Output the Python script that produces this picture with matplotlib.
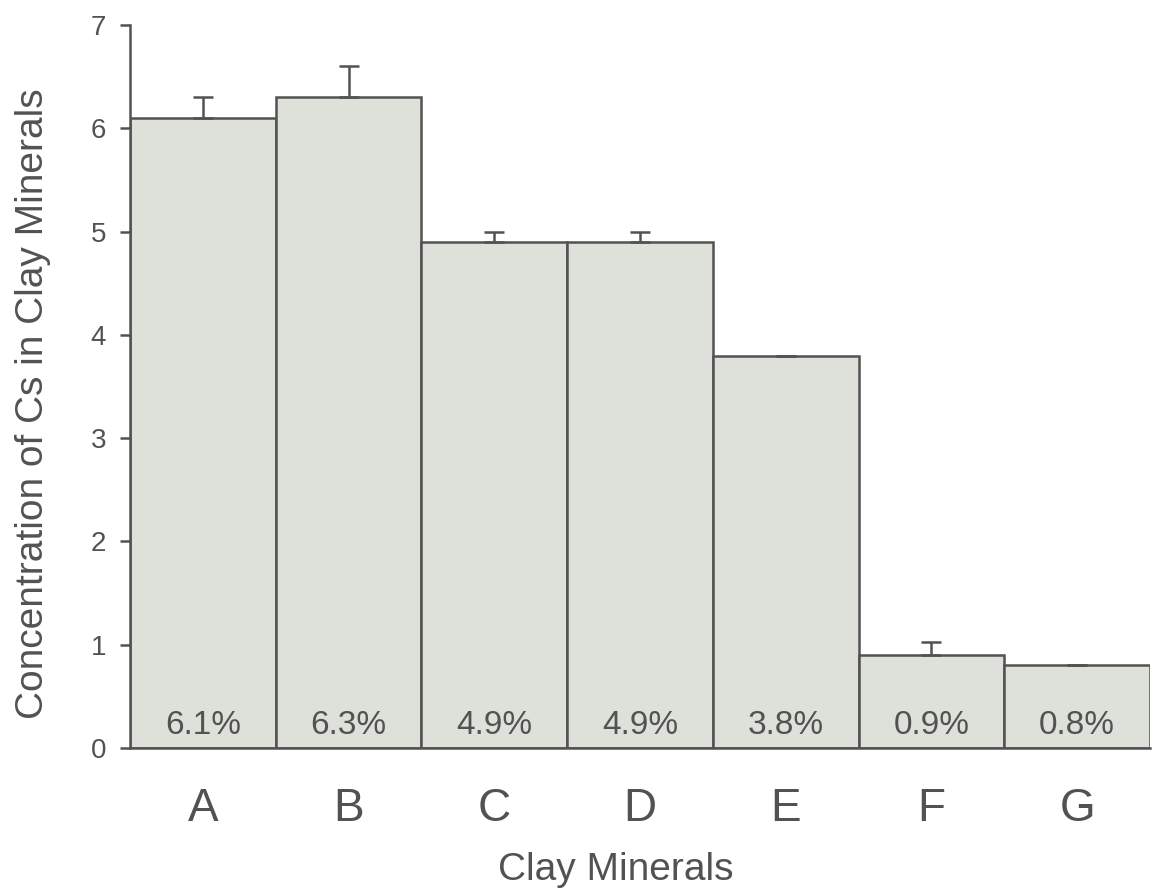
import matplotlib.pyplot as plt

plt.rcParams['font.family'] = ['Liberation Sans', 'DejaVu Sans']

minerals = ['A', 'B', 'C', 'D', 'E', 'F', 'G']
concentration = [6.1, 6.3, 4.9, 4.9, 3.8, 0.9, 0.8]
errors = [0.2, 0.3, 0.1, 0.1, 0.0, 0.13, 0.0]
percent_labels = ['6.1%', '6.3%', '4.9%', '4.9%', '3.8%', '0.9%', '0.8%']

grey = '#525252'

fig = plt.figure(figsize=(11.52, 8.94), dpi=100)
ax = fig.add_axes([0.1128, 0.1633, 0.8855, 0.8087])

x = range(len(minerals))
ax.bar(x, concentration, width=1.0, color='#dde1da', edgecolor=grey, linewidth=1.8,
       yerr=[[0] * len(errors), errors],
       error_kw=dict(ecolor=grey, elinewidth=1.8, capsize=7, capthick=1.8))

# percentages written inside the bars
for i, lab in enumerate(percent_labels):
    ax.text(i, 0.135, lab, ha='center', va='baseline', fontsize=24, color=grey)

ax.set_xlim(-0.5, 6.5)
ax.set_ylim(0, 7)
ax.set_yticks(range(0, 8))
ax.set_xticks(list(x))
ax.set_xticklabels(minerals, fontsize=33, color=grey)
ax.tick_params(axis='x', length=0, pad=28)
ax.tick_params(axis='y', labelsize=20, labelcolor=grey, color=grey, width=1.8, length=7, pad=10)

ax.set_xlabel('Clay Minerals', fontsize=28, color=grey)
ax.set_ylabel('Concentration of Cs in Clay Minerals', fontsize=28, color=grey)
ax.xaxis.set_label_coords(0.476, -0.1438)
ax.yaxis.set_label_coords(-0.0775, 0.476)

for side in ['top', 'right']:
    ax.spines[side].set_visible(False)
ax.spines['left'].set_color(grey)
ax.spines['left'].set_linewidth(1.8)
ax.spines['bottom'].set_color(grey)
ax.spines['bottom'].set_linewidth(1.8)

fig.savefig('out.png', dpi=100)
